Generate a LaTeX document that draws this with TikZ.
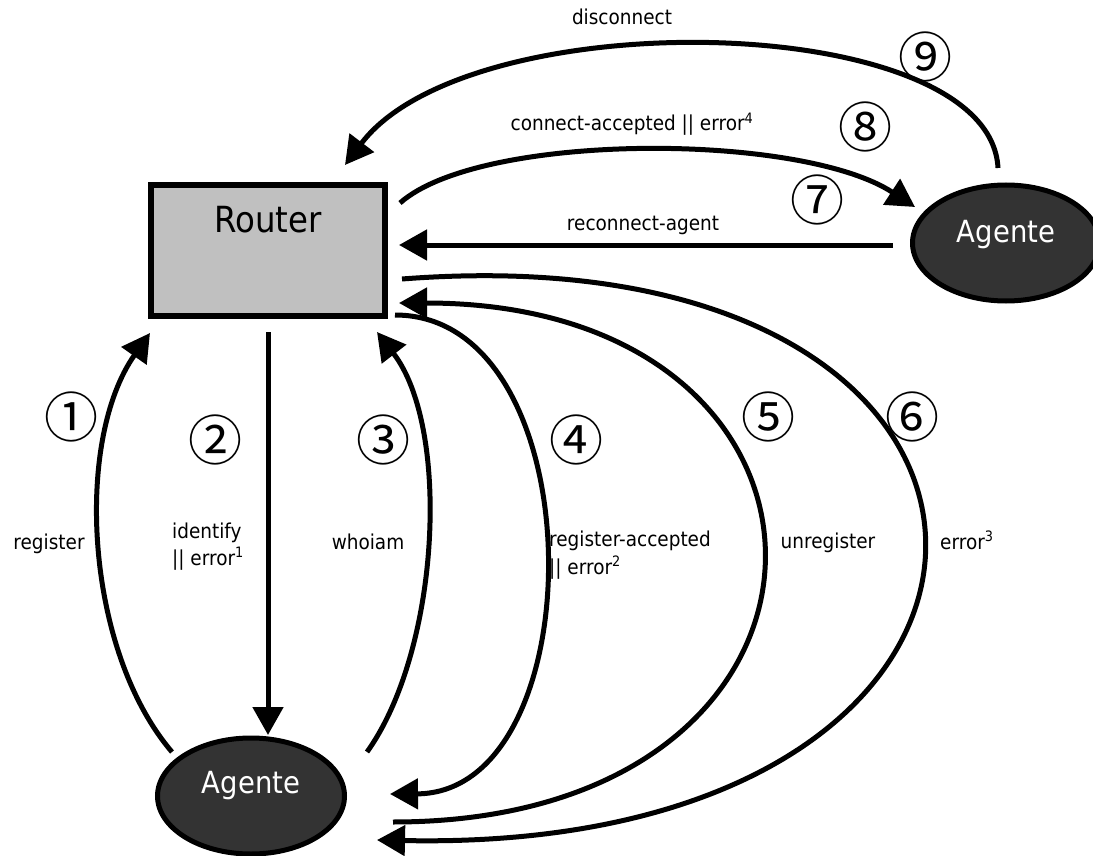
\documentclass[tikz,border=0pt]{standalone}
\usepackage{fontspec}
\setmainfont{DejaVu Sans}[FakeStretch=0.9]
\newfontfamily\circfont{Noto Sans CJK JP}
\usetikzlibrary{arrows.meta,shapes.geometric}
\definecolor{routergray}{HTML}{C0C0C0}
\definecolor{agentfill}{HTML}{333333}

\begin{document}
\begin{tikzpicture}[x=1pt,y=-1pt,
  flow/.style={line width=5pt,-{Triangle[length=28pt,width=30pt]}},
  routerbox/.style={draw,line width=6pt,fill=routergray,minimum width=234pt,
    minimum height=131pt,inner sep=0pt,outer sep=0pt},
  agentshape/.style={ellipse,draw,line width=5pt,fill=agentfill,minimum width=187pt,
    minimum height=116pt,inner sep=0pt,outer sep=0pt},
  agenttext/.style={anchor=base,text=white,inner sep=0pt,font=\fontsize{30.5}{36}\selectfont},
  routertext/.style={anchor=base,inner sep=0pt,font=\fontsize{36}{42}\selectfont},
  msg/.style={anchor=base,inner sep=0pt,font=\fontsize{20.5}{25}\selectfont},
  msgleft/.style={msg,anchor=base west},
  stepnum/.style={inner sep=0pt,font=\circfont\fontsize{54}{54}\selectfont}
]
\useasboundingbox (0,0) rectangle (1093,856);
\clip (0,0) rectangle (1093,856);

% nodes
\node[routerbox] (router) at (268,250.5) {};
\node[routertext] (routerlabel) at (268,233) {Router};
\node[agentshape] (agentA) at (251,796) {};
\node[agenttext] (agentAlabel) at (251,793) {Agente};
\node[agentshape] (agentB) at (1006,243) {};
\node[agenttext] (agentBlabel) at (1006,242) {Agente};

% 1: register
\draw[flow] ([shift={(-79,14)}]agentA.north)
  .. controls (85,650) and (74,441) .. ([shift={(-1,17)}]router.south west);
% 2: identify || error
\draw[flow] ([shift={(0,16)}]router.south) -- ([shift={(17,-3)}]agentA.north);
% 3: whoiam
\draw[flow] ([shift={(116,14)}]agentA.north)
  .. controls (440,650) and (451,428) .. ([shift={(-8,16)}]router.south east);
% 4: register-accepted || error
\draw[flow] ([shift={(10,-1)}]router.south east)
  .. controls (596,315) and (596,793) .. ([shift={(45.5,-2)}]agentA.east);
% 5: unregister
\draw[flow] ([shift={(48.5,26)}]agentA.east)
  .. controls (884,822) and (884,303) .. ([shift={(14,-13)}]router.south east);
% 6: error
\draw[flow] ([shift={(17,-37)}]router.south east)
  .. controls (1100,225) and (1100,855) .. ([shift={(32.5,44)}]agentA.east);
% 7: reconnect-agent
\draw[flow] ([shift={(-19.5,2)}]agentB.west) -- ([shift={(14,-5.5)}]router.east);
% 8: connect-accepted || error
\draw[flow] ([shift={(15,18)}]router.north east)
  .. controls (480,132) and (800,132) .. ([shift={(2.5,-36)}]agentB.west);
% 9: disconnect
\draw[flow] ([shift={(-8,-17)}]agentB.north)
  .. controls (990,10) and (470,0) .. ([shift={(-40,-20)}]router.north east);

% message labels
\node[msg] (lregister) at (49,549) {register};
\node[msgleft] (lidentify) at (172,538) {identify};
\node[msgleft] (lerror1) at (172,565) {|| error\textsuperscript{1}};
\node[msg] (lwhoiam) at (368,549) {whoiam};
\node[msgleft] (lregacc) at (549,546) {register-accepted};
\node[msgleft] (lerror2) at (549,574) {|| error\textsuperscript{2}};
\node[msg] (lunregister) at (828,548) {unregister};
\node[msgleft] (lerror3) at (940,549) {error\textsuperscript{3}};
\node[msg] (lreconnect) at (643,230) {reconnect-agent};
\node[msg] (lconnacc) at (632,131) {connect-accepted || error\textsuperscript{4}};
\node[msg] (ldisconnect) at (622,25) {disconnect};

% step numbers
\node[stepnum] (n1) at (71,417) {①};
\node[stepnum] (n2) at (215,440) {②};
\node[stepnum] (n3) at (383,440) {③};
\node[stepnum] (n4) at (576,440) {④};
\node[stepnum] (n5) at (768,417) {⑤};
\node[stepnum] (n6) at (912,417) {⑥};
\node[stepnum] (n7) at (817,200) {⑦};
\node[stepnum] (n8) at (865,127) {⑧};
\node[stepnum] (n9) at (925,57) {⑨};
\end{tikzpicture}
\end{document}
